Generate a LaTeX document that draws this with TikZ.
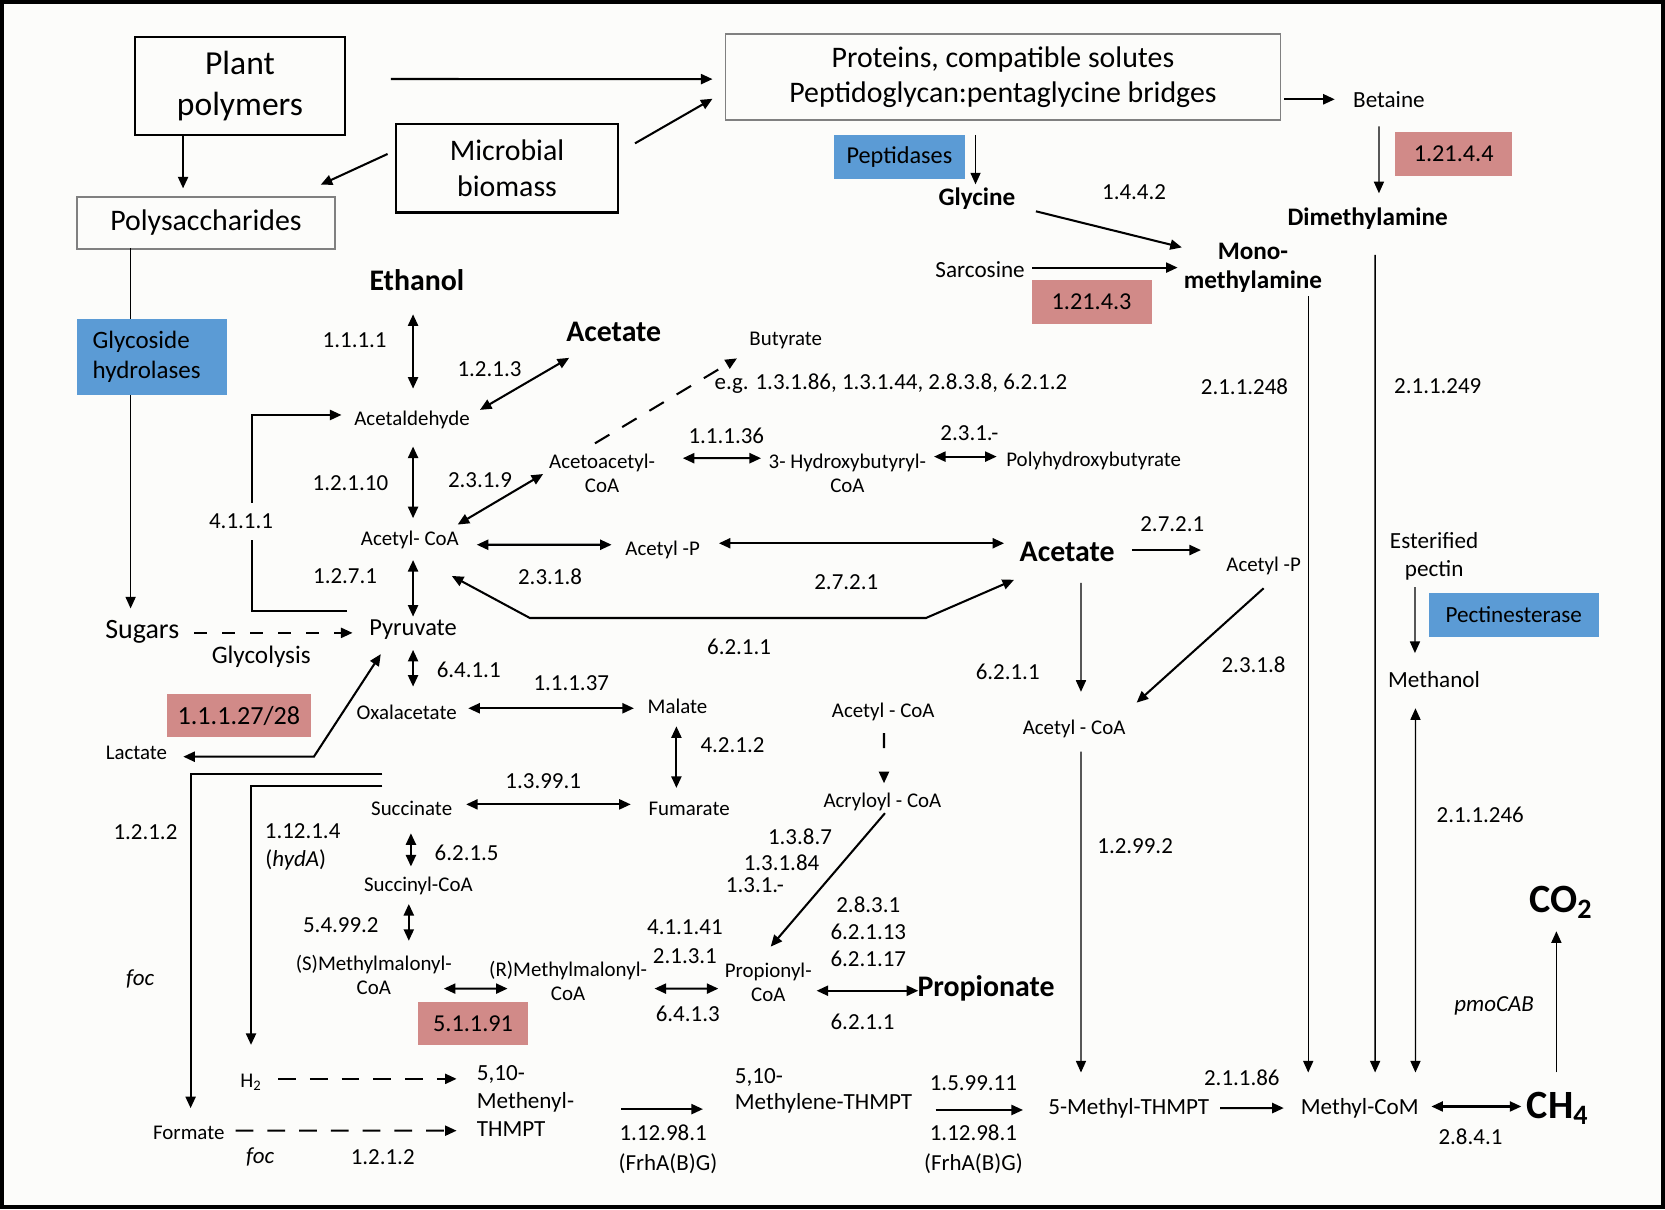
\documentclass[tikz,border=0pt]{standalone}
\usepackage{fontspec}
\setmainfont{Carlito}
\usetikzlibrary{arrows.meta, calc, positioning}
\definecolor{paper}{RGB}{252,252,250}
\definecolor{ghblue}{RGB}{91,155,213}
\definecolor{ecred}{RGB}{209,138,136}
\tikzset{
  cpd/.style={font=\fontsize{11.2}{13}\selectfont, inner sep=1pt, align=center},
  cpdm/.style={font=\fontsize{12.4}{15}\selectfont, inner sep=1pt, align=center},
  ec/.style={font=\fontsize{12.3}{14}\selectfont, inner sep=1pt},
  prod/.style={font=\fontsize{16}{19}\selectfont\bfseries, inner sep=1pt},
  amine/.style={font=\fontsize{13.5}{15.5}\selectfont\bfseries, inner sep=1pt, align=center},
  gas/.style={font=\fontsize{21.5}{24}\selectfont\bfseries, inner sep=1pt},
  srcbox/.style={draw, line width=1.3pt, align=center, inner sep=0pt},
  greybox/.style={draw=black!50, line width=0.7pt, align=center, inner sep=0pt},
  enzbox/.style={fill=ghblue, inner sep=0pt, align=center},
  ecbox/.style={fill=ecred, inner sep=0pt, font=\fontsize{13}{15}\selectfont},
  rx/.style={line width=1.1pt},
  thinrx/.style={line width=0.7pt},
  thmptdash/.style={rx, dash pattern=on 9.5pt off 7.5pt},
}
\begin{document}
\begin{tikzpicture}[x=0.02cm, y=-0.02cm, >={Triangle[length=6.2pt,width=5.4pt]}]
\useasboundingbox (0,0) rectangle (1568,1139);
\fill[paper] (0,0) rectangle (1568,1139);
\draw[line width=2pt] (2,2) rectangle (1566,1137);

% sources
\node[srcbox, minimum width=3.96cm, minimum height=1.84cm, font=\fontsize{18}{21.5}\selectfont] (plant) at (226,81) {Plant\\polymers};
\node[srcbox, minimum width=4.18cm, minimum height=1.66cm, font=\fontsize{16}{19}\selectfont] (microbial) at (477.5,158.5) {Microbial\\biomass};
\node[greybox, minimum width=4.86cm, minimum height=0.98cm, font=\fontsize{16}{19}\selectfont] (polysac) at (194,210) {Polysaccharides};
\node[greybox, minimum width=10.46cm, minimum height=1.62cm, font=\fontsize{16}{19}\selectfont] (proteins) at (944.5,72.5) {Proteins, compatible solutes\\Peptidoglycan:pentaglycine bridges};
\node[enzbox, minimum width=2.48cm, minimum height=0.82cm, font=\fontsize{13}{15}\selectfont] (peptid) at (847,148) {Peptidases};
\node[enzbox, minimum width=3.2cm, minimum height=0.82cm, font=\fontsize{12.4}{15}\selectfont] (pectbox) at (1425.5,579) {Pectinesterase};
\node[ecbox, minimum width=2.2cm, minimum height=0.82cm] (ecDMA) at (1369,145) {1.21.4.4};
\node[ecbox, minimum width=2.26cm, minimum height=0.82cm] (ecMMA) at (1028,284.5) {1.21.4.3};
\node[ecbox, minimum width=2.72cm, minimum height=0.82cm, font=\fontsize{14}{16}\selectfont] (ecLDH) at (225,674) {1.1.1.27/28};
\node[ecbox, minimum width=2.06cm, minimum height=0.82cm] (ecMCE) at (445.5,964) {5.1.1.91};

% amines and methanol branch
\node[cpdm] (betaine) at (1308,93.5) {Betaine};
\node[amine] (glycine) at (920,187.4) {Glycine};
\node[ec] (ec1442) at (1068,181) {1.4.4.2};
\node[amine] (mono) at (1180,252) {Mono-\\methylamine};
\node[amine] (dimethyl) at (1288,205.6) {Dimethylamine};
\node[cpdm] (sarcosine) at (923,254) {Sarcosine};
\node[ec] (ec211248) at (1172,364) {2.1.1.248};
\node[ec] (ec211249) at (1354,364) {2.1.1.249};
\node[cpdm, font=\fontsize{12.4}{15.1}\selectfont] (esterified) at (1350.6,524) {Esterified\\pectin};
\node[cpdm] (methanol) at (1350.5,640.4) {Methanol};
\node[ec] (ec211246) at (1394,767) {2.1.1.246};

% acetate and friends
\node[prod] (ethanol) at (392.6,263.7) {Ethanol};
\node[prod] (acetateT) at (578,313) {Acetate};
\node[ec] (ec1111) at (334,320) {1.1.1.1};
\node[ec] (ec1213) at (461,348) {1.2.1.3};
\node[cpd] (butyrate) at (740,321) {Butyrate};
\node[ec] (eg) at (839,361) {e.g. 1.3.1.86, 1.3.1.44, 2.8.3.8, 6.2.1.2};
\node[cpd] (acetald) at (388,395.5) {Acetaldehyde};
\node[ec] (ec11136) at (684,410) {1.1.1.36};
\node[ec] (ec231x) at (913,408) {2.3.1.-};
\node[cpd] (acetoacetyl) at (567,445.7) {Acetoacetyl-\\CoA};
\node[cpd] (hbcoa) at (798,446) {3- Hydroxybutyryl-\\CoA};
\node[cpd] (phb) at (1030,434) {Polyhydroxybutyrate};
\node[ec] (ec12110) at (330,455) {1.2.1.10};
\node[ec] (ec2319) at (452,452) {2.3.1.9};
\node[cpd] (acetylcoa) at (386,508.5) {Acetyl- CoA};
\node[cpd] (acetylp) at (624,518) {Acetyl -P};
\node[ec] (ec2318) at (518,543) {2.3.1.8};
\node[ec] (ec1271) at (325,543) {1.2.7.1};
\node[ec] (ec2721) at (797,548) {2.7.2.1};
\node[prod] (acetateM) at (1005,519.5) {Acetate};
\node[ec] (ec2721R) at (1104,493.5) {2.7.2.1};
\node[cpd] (acetylpR) at (1190,532.7) {Acetyl -P};
\node[ec] (ec6211a) at (696,609) {6.2.1.1};
\node[ec] (ec6211R) at (949,632.5) {6.2.1.1};
\node[ec] (ec2318R) at (1180.5,626) {2.3.1.8};
\node[cpd] (acetylcoaR) at (1011.5,686.5) {Acetyl - CoA};
\node[ec] (ec12992) at (1069,797) {1.2.99.2};

% pyruvate and the C4 / C3 routes
\node[font=\fontsize{15}{18}\selectfont, inner sep=1pt] (sugars) at (134,595) {Sugars};
\node[font=\fontsize{13.1}{15}\selectfont, inner sep=1pt] (pyruvate) at (389,593) {Pyruvate};
\node[font=\fontsize{13.5}{16}\selectfont, inner sep=1pt] (glycolysis) at (246,618.4) {Glycolysis};
\node[ec] (ec6411) at (441.4,631) {6.4.1.1};
\node[ec] (ec11137) at (538,643.5) {1.1.1.37};
\node[cpd] (lactate) at (128.5,709) {Lactate};
\node[cpd] (oxal) at (383,670.8) {Oxalacetate};
\node[cpd] (malate) at (638,665) {Malate};
\node[ec] (ec4212) at (689.8,701.6) {4.2.1.2};
\node[cpd] (acetylcoaM) at (831.8,670.8) {Acetyl - CoA};
\node[cpd] (acryloyl) at (831,755) {Acryloyl - CoA};
\node[ec] (ec13991) at (511.6,735.2) {1.3.99.1};
\node[cpd] (succinate) at (387.7,761.2) {Succinate};
\node[cpd] (fumarate) at (649,762) {Fumarate};
\node[ec] (ec1387) at (753.4,788) {1.3.8.7};
\node[ec] (ec13184) at (736,812.4) {1.3.1.84};
\node[ec] (ec1331x) at (711,833.4) {1.3.1.-};
\node[ec] (ec6215) at (439.5,803.6) {6.2.1.5};
\node[cpd] (succoa) at (394,834) {Succinyl-CoA};
\node[ec] (ec54992) at (321,871.7) {5.4.99.2};
\node[cpd] (smm) at (352,918) {(S)Methylmalonyl-\\CoA};
\node[cpd] (rmm) at (535,923.5) {(R)Methylmalonyl-\\CoA};
\node[cpd] (propcoa) at (723.5,925) {Propionyl-\\CoA};
\node[prod] (propionate) at (928.6,931) {Propionate};
\node[ec] (ec41141) at (645,873.6) {4.1.1.41};
\node[ec] (ec2131) at (645,900.3) {2.1.3.1};
\node[ec] (ec6413) at (647.7,955) {6.4.1.3};
\node[ec] (ec2831) at (817.7,852.3) {2.8.3.1};
\node[ec] (ec62113) at (817.7,877.4) {6.2.1.13};
\node[ec] (ec62117) at (817.7,903.4) {6.2.1.17};
\node[ec] (ec6211p) at (812.3,962.7) {6.2.1.1};

% C1 routes to methane
\node[ec] (ec1212a) at (137,783.2) {1.2.1.2};
\node[ec] (ec11214) at (285,783) {1.12.1.4};
\node[ec] (hyda) at (278.5,810) {(\textit{hydA})};
\node[ec, font=\fontsize{12.3}{14}\selectfont\itshape] (foc1) at (132,922.2) {foc};
\node[cpd] (h2) at (236.4,1019) {H\textsubscript{2}};
\node[cpd] (formate) at (177.8,1067) {Formate};
\node[ec, font=\fontsize{12.3}{14}\selectfont\itshape] (foc2) at (245,1089.3) {foc};
\node[ec] (ec1212b) at (360.4,1089.3) {1.2.1.2};
\node[cpdm, anchor=west, align=left] (methenyl) at (447,1037) {5,10-\\Methenyl-\\THMPT};
\node[ec] (ec1129811) at (624.5,1066.3) {1.12.98.1};
\node[ec] (frh1) at (629,1095.5) {(FrhA(B)G)};
\node[cpdm, anchor=west, align=left, font=\fontsize{12.4}{14}\selectfont] (methylene) at (690,1027) {5,10-\\Methylene-THMPT};
\node[ec] (ec159911) at (916.7,1019.6) {1.5.99.11};
\node[ec] (ec1129812) at (916.7,1066.7) {1.12.98.1};
\node[ec] (frh2) at (916.7,1096) {(FrhA(B)G)};
\node[cpdm] (methylthmpt) at (1063,1044) {5-Methyl-THMPT};
\node[ec] (ec2186) at (1169.5,1014.5) {2.1.1.86};
\node[cpdm] (methylcom) at (1280.5,1043.5) {Methyl-CoM};
\node[ec] (ec2841) at (1384.8,1070.5) {2.8.4.1};
\node[gas] (ch4) at (1467,1044) {CH\textsubscript{4}};
\node[gas] (co2) at (1470,850) {CO\textsubscript{2}};
\node[ec, font=\fontsize{12.3}{14}\selectfont\itshape] (pmo) at (1407,947) {pmoCAB};
\coordinate (ftop) at (360,729.2);
\coordinate (htop) at (360,740.2);

% top of the figure
\draw[rx,->] ($(plant)+(142,-6.6)$) -- ($(proteins)+(-273.5,2)$);
\draw[rx,->] ($(microbial)+(120.5,-23.5)$) -- ($(proteins)+(-273.5,20.5)$);
\draw[rx,->] ($(microbial)+(-112.5,-13.5)$) -- ($(polysac)+(108,-36)$);
\draw[rx,->] ($(plant)+(-53.6,46)$) -- ($(polysac)+(-21.6,-32.6)$);
\draw[thinrx,->] ($(polysac)+(-71,24)$) -- ($(sugars)+(-11,-22)$);
\draw[rx,->] ($(proteins)+(264.5,21)$) -- ($(betaine)+(-51,0)$);
\draw[thinrx,->] ($(proteins)+(-25.8,54.5)$) -- ($(glycine)+(-1.3,-13.8)$);
\draw[thinrx,->] ($(betaine)+(-9.4,25.5)$) -- ($(dimethyl)+(10.6,-23.6)$);
\draw[rx,->] ($(glycine)+(55.6,11.6)$) -- ($(mono)+(-67,-19)$);
\draw[rx,->] ($(sarcosine)+(49,-2)$) -- ($(mono)+(-71,0)$);

% methylotrophic and acetoclastic routes
\draw[thinrx,->] ($(mono)+(52,27)$) -- ($(methylcom)+(-48.5,-33.5)$);
\draw[thinrx,->] ($(dimethyl)+(7,34.4)$) -- ($(methylcom)+(14.5,-33.5)$);
\draw[thinrx,<->] ($(methanol)+(-17.5,26.6)$) -- ($(methylcom)+(52.5,-33.5)$);
\draw[thinrx,->] ($(esterified)+(-18,29)$) -- ($(methanol)+(-18,-25.4)$);
\draw[thinrx,->] ($(acetylcoaR)+(6.5,21.4)$) -- ($(methylthmpt)+(-45,-34)$);
\draw[thinrx,->] ($(acetateM)+(13,29.5)$) -- ($(acetylcoaR)+(6.5,-35)$);
\draw[rx,->] ($(acetateM)+(61,-1.5)$) -- ($(acetylpR)+(-59,-14.7)$);
\draw[rx,->] ($(acetylpR)+(0,21.3)$) -- ($(acetylcoaR)+(58.9,-24.8)$);
\draw[rx,->] ($(methylthmpt)+(86,-0.5)$) -- ($(methylcom)+(-71.5,0)$);
\draw[rx,<->] ($(methylcom)+(67.5,-1.5)$) -- ($(ch4)+(-34.3,-2)$);
\draw[thinrx,->] ($(ch4)+(-1.3,-34)$) -- ($(co2)+(-4.3,27)$);

% fermentation
\draw[rx,<->] ($(ethanol)+(-3.6,32.3)$) -- ($(acetald)+(1,-29.5)$);
\draw[rx,<->] ($(acetald)+(64,-9.5)$) -- ($(acetateT)+(-42,24)$);
\draw[rx,<->] ($(acetald)+(1,25)$) -- ($(acetylcoa)+(3,-20.5)$);
\draw[rx,<->] ($(acetylcoa)+(45,-14.5)$) -- ($(acetoacetyl)+(-55.5,0.7)$);
\draw[rx,->,dash pattern=on 9pt off 8pt] ($(acetoacetyl)+(-6.7,-28.2)$) -- ($(butyrate)+(-46,16.5)$);
\draw[rx,<->] ($(acetoacetyl)+(76,-14.2)$) -- ($(hbcoa)+(-81.3,-14.5)$);
\draw[rx,<->] ($(hbcoa)+(81.6,-16)$) -- ($(phb)+(-91.4,-4)$);
\draw[rx,<->] ($(acetylcoa)+(63,4.5)$) -- ($(acetylp)+(-48,-5)$);
\draw[rx,<->] ($(acetylp)+(53,-6.4)$) -- ($(acetateM)+(-59.4,-7.9)$);
\draw[rx,<->] ($(acetylcoa)+(39.5,33.9)$) -- ++(73.5,39.6) -- ++(373,0) -- ($(acetateM)+(-50,26.5)$);
\draw[rx,<->] ($(acetylcoa)+(3,18.9)$) -- ($(pyruvate)+(0,-12.3)$);
\draw[rx,->] ($(pyruvate)+(-62,-17.5)$) -- ++(-89.4,0) |- ($(acetald)+(-66.4,-4.7)$);
\draw[rx,->,dash pattern=on 6.7pt off 8.3pt] ($(sugars)+(49,1)$) -- ($(pyruvate)+(-57,3)$);
\draw[rx,<->] ($(pyruvate)+(0,19)$) -- ($(oxal)+(6,-24.2)$);
\draw[rx,<->] ($(oxal)+(58,-3.8)$) -- ($(malate)+(-41,2)$);
\draw[rx,<->] ($(malate)+(-1,19)$) -- ($(fumarate)+(-12,-20)$);
\draw[rx,<->] ($(succinate)+(51.3,-3.7)$) -- ($(fumarate)+(-55,-4.5)$);
\draw[rx,<->] ($(pyruvate)+(-30.4,23)$) -- ++(-63,96.6) -- ($(lactate)+(44.1,3.6)$);
\draw[rx,<->] ($(succinate)+(-0.7,23.5)$) -- ($(succoa)+(-7,-18)$);
\draw[rx,<->] ($(succoa)+(-9,17.3)$) -- ($(smm)+(33,-32)$);
\draw[rx,<->] ($(smm)+(66,13)$) -- ($(rmm)+(-57,7.5)$);
\draw[rx,<->] ($(rmm)+(81.4,7.5)$) -- ($(propcoa)+(-47,6)$);
\draw[rx,<->] ($(propcoa)+(45.5,8)$) -- ($(propionate)+(-63.8,2)$);
\draw[rx,->,dash pattern=on 8pt off 20pt] ($(acetylcoaM)+(0.7,19.6)$) -- ($(acryloyl)+(1.5,-17.4)$);
\draw[rx,->] ($(acryloyl)+(2.4,10.8)$) -- ($(propcoa)+(2.3,-33.5)$);

% hydrogenotrophic side
\draw[rx,->] (ftop) -| ($(formate)+(1.7,-23.4)$);
\draw[rx,->] (htop) -| ($(h2)+(0,-35)$);
\draw[thmptdash,->] ($(h2)+(25.6,-3)$) -- ($(methenyl.west)+(-17,-21)$);
\draw[thmptdash,->] ($(formate)+(44.2,-2.2)$) -- ($(methenyl.west)+(-17,27.8)$);
\draw[rx,->] ($(methenyl.west)+(138,7.5)$) -- ($(methylene.west)+(-28,17.5)$);
\draw[rx,->] ($(methylene.west)+(191,18.3)$) -- ($(methylthmpt)+(-99.6,1.3)$);

% drawn last so they sit on their lines
\node[enzbox, minimum width=2.82cm, minimum height=1.44cm, text width=2.232cm, inner xsep=0.294cm, align=left, font=\fontsize{13.4}{16}\selectfont] (glyco) at (143,336) {Glycoside\\hydrolases};
\node[ec, fill=paper, inner ysep=6pt, inner xsep=1pt] (ec4111) at (227,491) {4.1.1.1};
\end{tikzpicture}
\end{document}
